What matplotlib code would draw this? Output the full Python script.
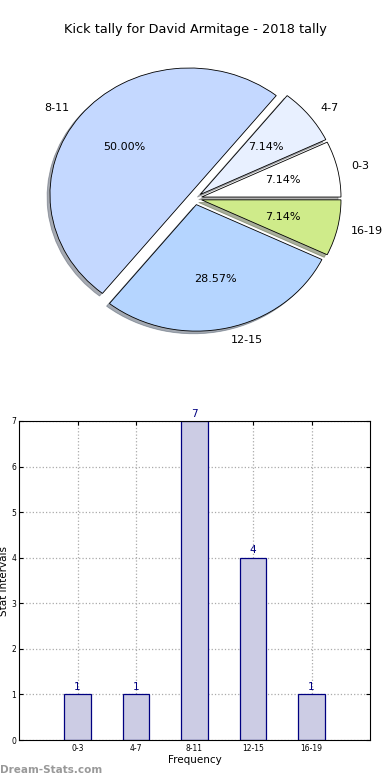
import matplotlib
matplotlib.use("Agg")
import matplotlib.pyplot as plt

# Veriler
intervals = ["0-3", "4-7", "8-11", "12-15", "16-19"]
counts = [1, 1, 7, 4, 1]
pie_colors = ["#ffffff", "#e8f0ff", "#c4d8ff", "#b5d5ff", "#cfeb8a"]
y_ticks = [0, 1, 2, 3, 4, 5, 6, 7]

fig = plt.figure(figsize=(3.9, 7.8), dpi=100)

# Pasta grafiği (eliptik, eski matplotlib görünümü)
ax1 = fig.add_axes([13.6 / 390, 417.1 / 780, 362.4 / 390, 328.9 / 780])
ax1.pie(
    counts,
    labels=intervals,
    colors=pie_colors,
    explode=[0.05] * len(counts),
    autopct="%1.2f%%",
    shadow={"ox": -0.015, "oy": -0.015, "shade": 0.6},
    startangle=0,
    wedgeprops={"edgecolor": "black", "linewidth": 0.6},
    textprops={"fontsize": 8},
)
ax1.set_aspect("auto")
ax1.set_xlim(-1.3, 1.3)
ax1.set_ylim(-1.3, 1.3)
ax1.axis("off")
fig.text(0.5, 1 - 30 / 780, "Kick tally for David Armitage - 2018 tally",
         ha="center", va="center", fontsize=9.3)

# Çubuk grafik
ax2 = fig.add_axes([19 / 390, 40 / 780, 351 / 390, 319 / 780])
x = list(range(len(intervals)))
bars = ax2.bar(x, counts, width=0.45, color="#ccccE4", edgecolor="navy",
               linewidth=0.9, zorder=2)
for xi, c in zip(x, counts):
    ax2.text(xi, c + 0.05, str(c), ha="center", va="bottom",
             color="navy", fontsize=7.5)
ax2.set_xlim(-1, 5)
ax2.set_ylim(0, 7)
ax2.set_xticks(x)
ax2.set_xticklabels(intervals, fontsize=5.5)
ax2.set_yticks(y_ticks)
ax2.tick_params(axis="y", labelsize=5.5, length=3, pad=2, direction="in")
ax2.tick_params(axis="x", length=3, pad=3, direction="in")
ax2.tick_params(top=True, right=True)
ax2.grid(True, linestyle=":", color="#aaaaaa", linewidth=0.9, zorder=0)
ax2.set_axisbelow(True)
ax2.set_xlabel("Frequency", fontsize=7.5, labelpad=1)
ax2.set_ylabel("Stat Intervals", fontsize=7.5, labelpad=2)

fig.text(0, 10 / 780, "Dream-Stats.com", ha="left", va="center",
         fontsize=7.5, color="#999999", fontweight="bold")

fig.savefig("out.png", dpi=100)
